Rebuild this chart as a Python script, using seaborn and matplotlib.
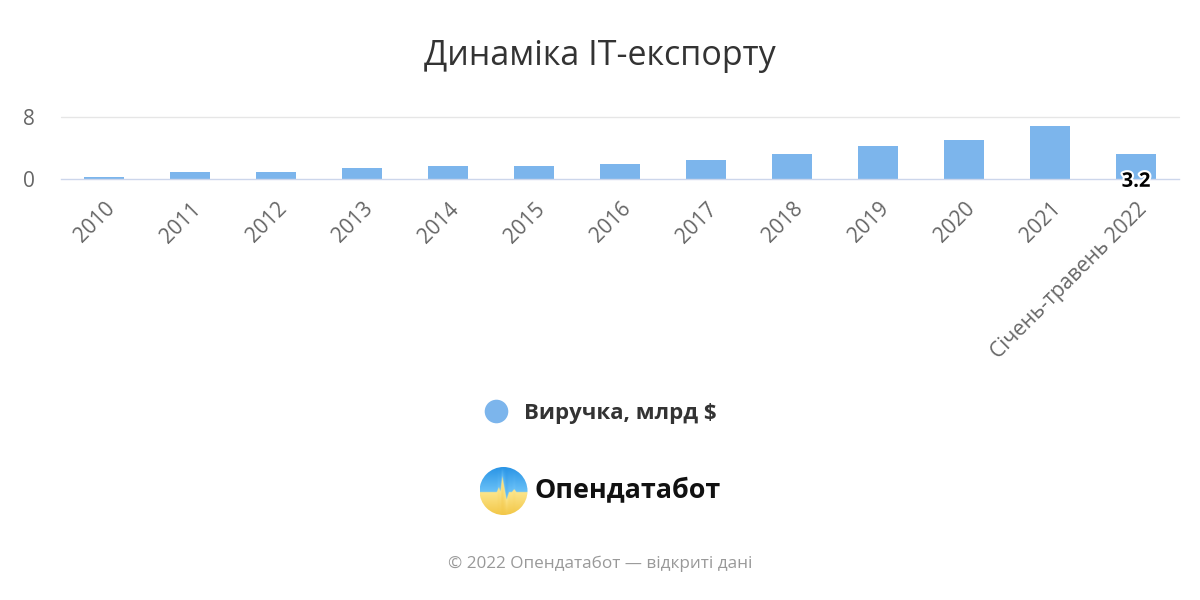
import numpy as np
import pandas as pd
import matplotlib
matplotlib.use("Agg")
import matplotlib.pyplot as plt
import seaborn as sns
from matplotlib.lines import Line2D
from matplotlib.patches import Circle
import matplotlib.patheffects as pe

# ---- data ----
categories = ["2010", "2011", "2012", "2013", "2014", "2015", "2016", "2017",
              "2018", "2019", "2020", "2021", "Січень-травень 2022"]
revenue = [0.2, 0.9, 0.9, 1.4, 1.65, 1.65, 1.9, 2.45, 3.2, 4.2, 5.0, 6.8, 3.2]
y_ticks = [0, 8]
title = "Динаміка IT-експорту"
series_name = "Виручка, млрд $"
footer = "© 2022 Опендатабот — відкриті дані"
brand = "Опендатабот"

BAR = "#7cb5ec"

sns.set_theme(style="white")
plt.rcParams["font.family"] = ["Open Sans", "DejaVu Sans"]

df = pd.DataFrame({"cat": categories, "val": revenue})

fig = plt.figure(figsize=(12, 6), dpi=100)
W, H = 1200, 600
ax = fig.add_axes([61 / W, 1 - 179 / H, (1179 - 61) / W, (179 - 117) / H])

sns.barplot(data=df, x="cat", y="val", color=BAR, width=0.465, ax=ax,
            saturation=1, edgecolor="none", linewidth=0, zorder=3)

ax.set_ylim(0, 8)
ax.set_xlim(-0.5, len(categories) - 0.5)
ax.set_yticks(y_ticks)
ax.set_xlabel("")
ax.set_ylabel("")
for s in ["top", "right", "left"]:
    ax.spines[s].set_visible(False)
ax.spines["bottom"].set_color("#ccd6eb")
ax.spines["bottom"].set_linewidth(1)
ax.spines["bottom"].set_zorder(4)
ax.axhline(8, color="#e6e6e6", lw=1, zorder=1, clip_on=False)
ax.tick_params(axis="y", length=0, pad=23, labelsize=15, labelcolor="#666666")
ax.tick_params(axis="x", length=0, pad=14, labelsize=15, labelcolor="#666666")
for lab in ax.get_yticklabels():
    lab.set_horizontalalignment("center")
plt.setp(ax.get_xticklabels(), rotation=45, ha="right", rotation_mode="anchor")

# data label on last bar
last = len(categories) - 1
ax.annotate(f"{revenue[last]:.1f}", xy=(last, 0), xytext=(0, -2),
            textcoords="offset points", ha="center", va="center",
            fontsize=14.5, fontweight="bold", color="black", zorder=6,
            path_effects=[pe.withStroke(linewidth=3, foreground="white")])

# title
fig.text(0.5, 1 - 56 / H, title, ha="center", va="center", fontsize=24.5,
         color="#333333")

# legend
handle = Line2D([], [], marker="o", ls="", markersize=17, color=BAR,
                markeredgewidth=0)
leg = fig.legend(handles=[handle], labels=[series_name], loc="center",
                 bbox_to_anchor=(0.5, 1 - 413 / H), frameon=False,
                 prop={"weight": "bold", "size": 16}, handletextpad=0.65,
                 handlelength=1.2)
for t in leg.get_texts():
    t.set_color("#333333")

# logo
cx, cy, r = 503.5, 491, 24
lax = fig.add_axes([(cx - r) / W, 1 - (cy + r) / H, 2 * r / W, 2 * r / H])
lax.set_xlim(-1, 1)
lax.set_ylim(-1, 1)
lax.axis("off")
n = 240
xs = np.linspace(-1, 1, n)
ys = np.linspace(-1, 1, n)
X, Y = np.meshgrid(xs, ys)
px = [-1.0, -0.3, -0.21, -0.15, -0.07, 0.11, 0.21, 0.33, 0.43, 0.52, 1.0]
py = [-0.04, -0.04, 0.17, -0.02, 0.62, -0.35, -0.04, -0.04, 0.08, -0.04, -0.04]
pulse = np.interp(X, px, py)
blue_top = np.array([0.16, 0.58, 0.90])
blue_bot = np.array([0.42, 0.76, 0.97])
yel_top = np.array([0.99, 0.90, 0.55])
yel_bot = np.array([0.95, 0.78, 0.28])
tb = np.clip((Y - pulse) / (1 - pulse + 1e-6), 0, 1)[..., None]
ty = np.clip((pulse - Y) / (pulse + 1 + 1e-6), 0, 1)[..., None]
blue = blue_bot * (1 - tb) + blue_top * tb
yel = yel_top * (1 - ty) + yel_bot * ty
img = np.where((Y > pulse)[..., None], blue, yel)
im = lax.imshow(img, extent=(-1, 1, -1, 1), origin="lower", interpolation="bilinear")
clip = Circle((0, 0), 1, transform=lax.transData)
im.set_clip_path(clip)
fig.text(534 / W, 1 - 491 / H, brand, ha="left", va="center", fontsize=19.4,
         fontweight="bold", color="#111111")

# footer
fig.text(0.5, 1 - 564 / H, footer, ha="center", va="center", fontsize=12.3,
         color="#999999")

fig.savefig("out.png", dpi=100, facecolor="white")
